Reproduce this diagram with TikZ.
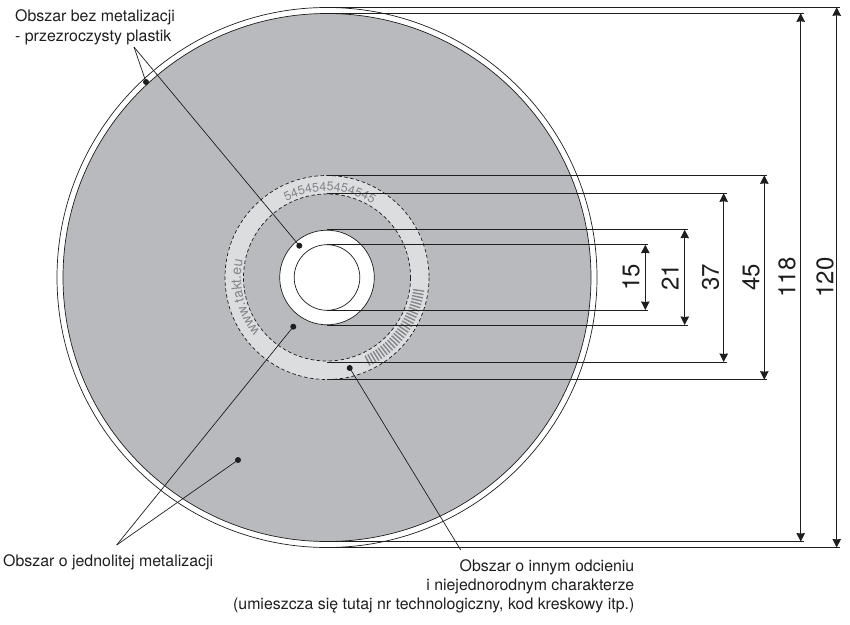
\documentclass[tikz,border=0pt]{standalone}
\usepackage{fontspec}
\setmainfont{TeX Gyre Heros}
\usetikzlibrary{arrows.meta,decorations.text}
\definecolor{disc}{HTML}{B9BABE}
\definecolor{band}{HTML}{DCDDDF}
\definecolor{print}{HTML}{85868A}
\definecolor{ink}{HTML}{1E1E1E}
\newcommand{\lblfont}{\fontsize{15.9}{18}\selectfont}
\newcommand{\dimfont}{\fontsize{24}{24}\selectfont}
\tikzset{
  outline/.style={draw=ink,line width=0.7pt},
  dimline/.style={draw=ink,line width=0.9pt},
  dimarrow/.style={draw=ink,line width=0.9pt,{Stealth[length=8.5pt,width=8.5pt,inset=0.5pt]}-{Stealth[length=8.5pt,width=8.5pt,inset=0.5pt]}},
  leader/.style={draw=ink,line width=0.7pt},
  spot/.style={circle,fill=ink,inner sep=0pt,minimum size=6pt},
  dimlabel/.style={rotate=90,inner sep=0pt,text=ink,font=\dimfont},
  note/.style={inner sep=0pt,text=ink,font=\lblfont}
}
\begin{document}
\begin{tikzpicture}[x=1pt,y=-1pt]
\useasboundingbox (0,0) rectangle (850,624);
\coordinate (c) at (327,277.5);
% disc
\draw[outline] (c) circle (270);
\draw[outline,fill=disc] (c) circle (264);
\fill[band] (c) circle (102);
\draw[outline,dashed,dash pattern=on 3.5pt off 2.5pt] (c) circle (102);
\fill[disc] (c) circle (83.5);
\draw[outline,dashed,dash pattern=on 3.5pt off 2.5pt] (c) circle (83.5);
\draw[outline,fill=white] (c) circle (47.3);
\draw[outline] (c) circle (32.8);
% printed band
\foreach \a in {64,62,...,8}{
  \draw[print,line width=1.4pt] (c) ++(\a:87) -- ++(\a:11);
}
\path[decorate,decoration={text along path,text align=center,
  text={|\fontsize{12.5}{12.5}\selectfont\color{print}|5454545454545}}]
  (c) ++(-120:86.5) arc (-120:-56:86.5);
\path[decorate,decoration={text along path,text align=center,
  text={|\fontsize{14}{14}\selectfont\color{print}|www.takt.eu}}]
  (c) ++(-224:86) arc (-224:-163:86);
% dimension lines
\foreach \nm/\ytop/\ybot/\xa in {a/244.7/310/645.3,b/229.7/325/684.7,d/193.3/362/723.7,e/175.3/379.7/764.3,f/13.3/541.6/800.7,g/7.3/547.5/836.7}{
  \coordinate (\nm t0) at (327,\ytop);
  \coordinate (\nm b0) at (327,\ybot);
  \coordinate (\nm t) at (\xa,\ytop);
  \coordinate (\nm b) at (\xa,\ybot);
  \draw[dimline] (\nm t0) -- ([xshift=3pt]\nm t);
  \draw[dimline] (\nm b0) -- ([xshift=3pt]\nm b);
  \draw[dimarrow] (\nm t) -- (\nm b);
}
\node[dimlabel] (l15) at (631,277.5) {15};
\node[dimlabel] (l21) at (670,277.5) {21};
\node[dimlabel] (l37) at (710.5,277.5) {37};
\node[dimlabel] (l45) at (751,277.5) {45};
\node[dimlabel] (l118) at (787,277.5) {118};
\node[dimlabel] (l120) at (825,277.5) {120};
% leaders
\coordinate (apexA) at (134,47);
\coordinate (apexB) at (116.7,545);
\coordinate (apexC) at (460.7,550);
\node[spot] (s1) at (146,82) {};
\node[spot] (s2) at (299.3,245.7) {};
\node[spot] (s3) at (238,460) {};
\node[spot] (s4) at (293.3,326.7) {};
\node[spot] (s5) at (349.7,368) {};
\draw[leader] (apexA) -- (s1.center);
\draw[leader] (apexA) -- (s2.center);
\draw[leader] (apexB) -- (s3.center);
\draw[leader] (apexB) -- (s4.center);
\draw[leader] (apexC) -- (s5.center);
% notes
\node[note,anchor=base west] (n1) at (15,21) {Obszar bez metalizacji};
\node[note,anchor=base west] (n2) at (15,41) {- przezroczysty plastik};
\node[note,anchor=base west] (n3) at (3,566) {Obszar o jednolitej metalizacji};
\node[note,anchor=base east] (n4) at (634.5,571) {Obszar o innym odcieniu};
\node[note,anchor=base east] (n5) at (634.5,590) {i niejednorodnym charakterze};
\node[note,anchor=base east] (n6) at (634.5,609) {(umieszcza się tutaj nr technologiczny, kod kreskowy itp.)};
\end{tikzpicture}
\end{document}
